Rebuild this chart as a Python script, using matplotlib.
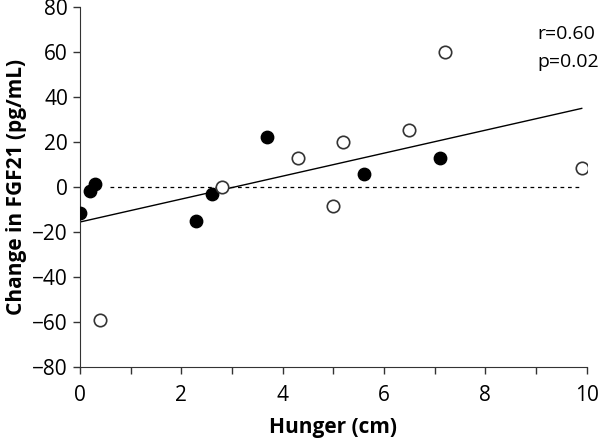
import numpy as np
import matplotlib.pyplot as plt

plt.rcParams['font.family'] = ['Open Sans', 'DejaVu Sans']

# filled symbols
filled_x = [0.0, 0.2, 0.3, 2.3, 2.6, 3.7, 5.6, 7.1]
filled_y = [-11.5, -1.5, 1.5, -15, -3, 22.5, 6, 13]
# open symbols
open_x = [0.4, 2.8, 4.3, 5.0, 5.2, 6.5, 7.2, 9.9]
open_y = [-59, 0, 13, -8.5, 20, 25.5, 60, 8.5]
# regression line end points
fit_x = [0.0, 9.9]
fit_y = [-15.5, 35]
# zero reference line
zero_x = [0.6, 9.9]
zero_y = [0, 0]

fig = plt.figure(figsize=(6, 4.43), dpi=100)
ax = fig.add_axes([0.133, 0.171, 0.845, 0.813])

ax.plot(zero_x, zero_y, color='black', linestyle=(0, (3, 3)), linewidth=0.9, zorder=1)
ax.plot(fit_x, fit_y, color='black', linewidth=1.0, zorder=2)
ax.scatter(filled_x, filled_y, s=80, color='black', zorder=3)
ax.scatter(open_x, open_y, s=80, facecolor='white', edgecolor='#333333', linewidth=1.2, zorder=3)

ax.text(9.03, 68, 'r=0.60', fontsize=14, va='center')
ax.text(9.03, 55.5, 'p=0.02', fontsize=14, va='center')

ax.set_xlim(0, 10)
ax.set_ylim(-80, 80)
ax.set_xticks(np.arange(0, 11, 2))
ax.set_xticks(np.arange(0, 11, 1), minor=True)
ax.set_yticks(np.arange(-80, 81, 20))
ax.tick_params(axis='both', labelsize=15, width=1, length=5, color='#333333')
ax.tick_params(axis='x', which='minor', length=5, width=1, color='#333333')
ax.tick_params(axis='x', pad=8)
ax.spines['top'].set_visible(False)
ax.spines['right'].set_visible(False)
for s in ['left', 'bottom']:
    ax.spines[s].set_color('#333333')

ax.set_xlabel('Hunger (cm)', fontsize=15, fontweight='bold', labelpad=8)
ax.set_ylabel('Change in FGF21 (pg/mL)', fontsize=15, fontweight='bold', labelpad=4)

fig.savefig('out.png', dpi=100)
